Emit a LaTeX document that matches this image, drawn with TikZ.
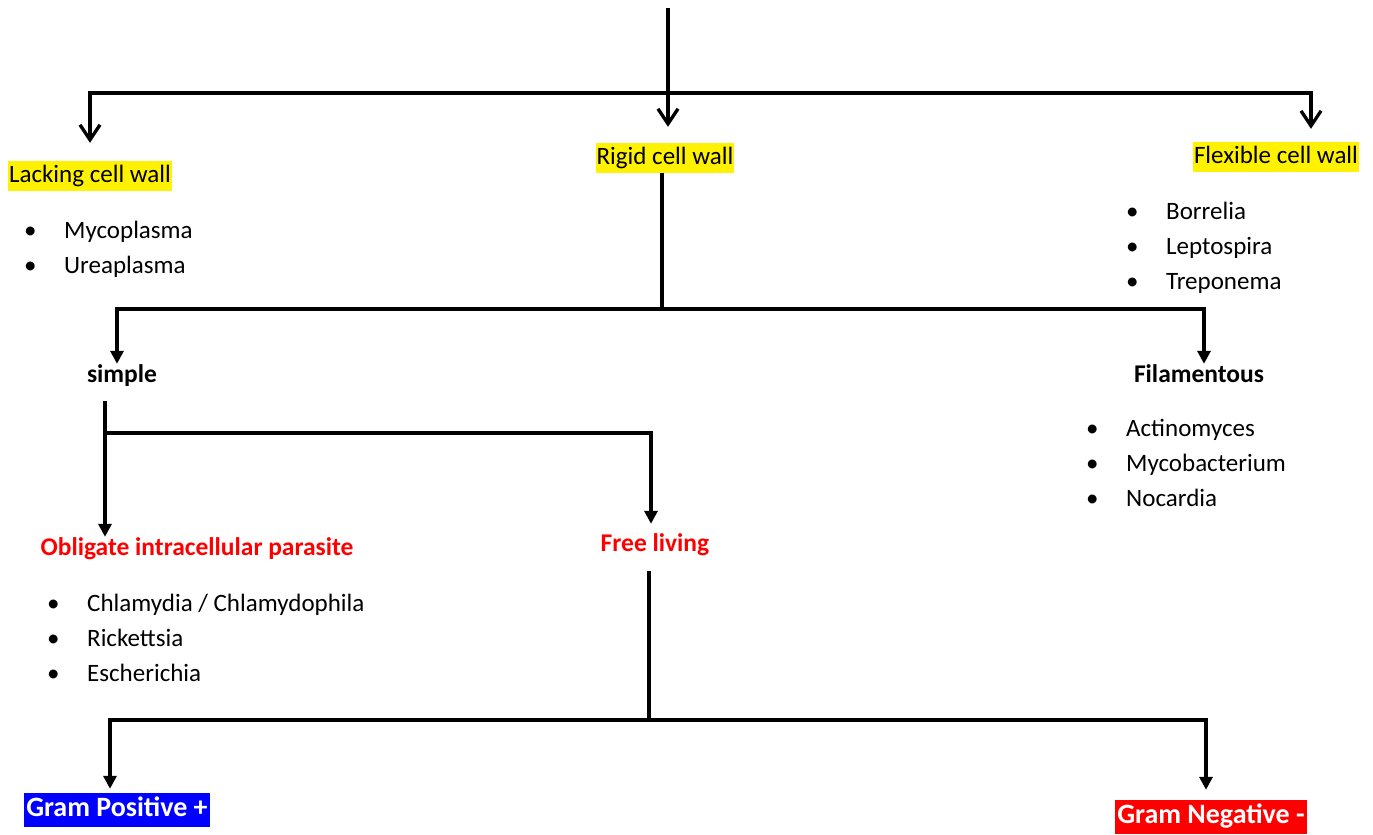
\documentclass[tikz,border=0pt]{standalone}
\usepackage{fontspec}
\setmainfont{Carlito}
\usetikzlibrary{arrows.meta, positioning}

\newcommand{\bul}{\makebox[40pt][l]{•}}

\begin{document}
\begin{tikzpicture}[
    x=1pt, y=-1pt,
    every node/.style={
        inner sep=0pt, text height=18pt, text depth=6pt,
        font=\fontsize{25}{35}\selectfont
    },
    conn/.style={line width=3.3pt},
    openarrow/.style={conn, -{Straight Barb[length=15pt, width=20pt]}},
    solidarrow/.style={conn, -{Triangle[length=13pt, width=13pt]}},
    hilite/.style={fill=yellow, inner xsep=1pt, inner ysep=3pt},
    head/.style={font=\fontsize{25.5}{35}\selectfont\bfseries},
    redhead/.style={head, text=red},
    gram/.style={font=\fontsize{28}{35}\selectfont\bfseries, text=white,
        inner xsep=2pt, text height=20pt, text depth=7pt, inner ysep=3.5pt},
    list/.style={align=left, anchor=base west, text height=, text depth=}
]
    \useasboundingbox (0,0) rectangle (1373,835);

    % categories by cell wall
    \node[hilite] (lack) at (90,176) {Lacking cell wall};
    \node[hilite] (rigid) at (665,158) {Rigid cell wall};
    \node[hilite] (flex) at (1276,157) {Flexible cell wall};

    % lists sit on the baseline of their last line
    \node[list] (lacklist) at (24,273) {\bul Mycoplasma\\ \bul Ureaplasma};
    \node[list] (flexlist) at (1126,289) {\bul Borrelia\\ \bul Leptospira\\ \bul Treponema};

    % rigid wall
    \node[head] (simple) at (122,376) {simple};
    \node[head] (filam) at (1199,376) {Filamentous};
    \node[list] (filamlist) at (1086,506) {\bul Actinomyces\\ \bul Mycobacterium\\ \bul Nocardia};

    % simple
    \node[redhead] (oblig) at (197,549) {Obligate intracellular parasite};
    \node[redhead] (free) at (655,545) {Free living};
    \node[list] (obliglist) at (47,681) {\bul Chlamydia / Chlamydophila\\ \bul Rickettsia\\ \bul Escherichia};

    % gram stain
    \node[gram, fill=blue] (gpos) at (117,810) {Gram Positive +};
    \node[gram, fill=red] (gneg) at (1211,817) {Gram Negative -};

    % connectors
    \coordinate (top) at (668,8);
    \coordinate (b1) at (668,93);
    \draw[conn] (top) -- (b1);
    \draw[openarrow, shorten >=18pt] (b1) -| (lack.north);
    \draw[openarrow, shorten >=16pt] (b1) -- (b1 |- rigid.north);
    \draw[openarrow, shorten >=13pt] (b1) -| ([xshift=35pt]flex.north);

    \coordinate (b2) at (662,309);
    \draw[conn] (b2 |- rigid.south) -- (b2);
    \draw[solidarrow] (b2) -| ([xshift=-5pt]simple.north);
    \draw[solidarrow] (b2) -| ([xshift=5pt]filam.north);

    \coordinate (b3) at (105,433);
    \draw[solidarrow, shorten <=13pt] (simple.south -| b3) -- (b3 |- oblig.north);
    \draw[solidarrow, shorten >=9pt] (b3) -| ([xshift=-4pt]free.north);

    \coordinate (b4) at (649,720);
    \draw[conn, shorten <=14pt] (free.south -| b4) -- (b4);
    \draw[solidarrow, shorten >=4pt] (b4) -| ([xshift=-7pt]gpos.north);
    \draw[solidarrow, shorten >=10pt] (b4) -| ([xshift=-5pt]gneg.north);
\end{tikzpicture}
\end{document}
